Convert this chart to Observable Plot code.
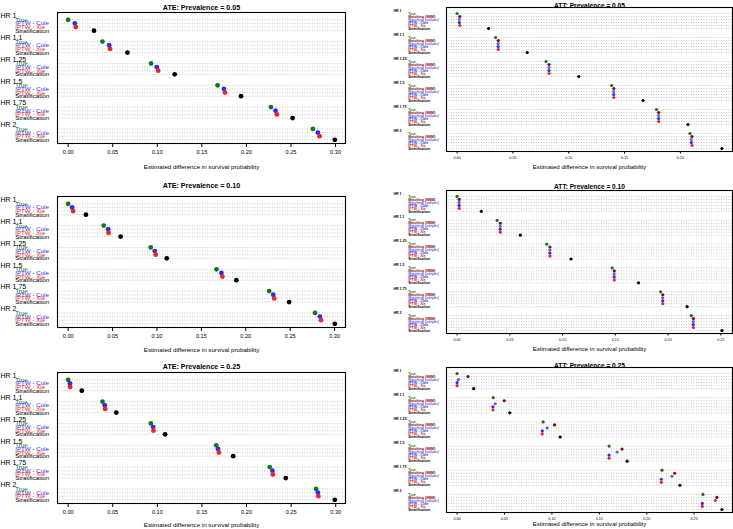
<!DOCTYPE html>
<html><head><meta charset="utf-8">
<script src="https://cdn.jsdelivr.net/npm/d3@7"></script>
<script src="https://cdn.jsdelivr.net/npm/@observablehq/plot@0.6"></script>
<style>
body{margin:0;background:#fff;}
#root{position:relative;width:733px;height:529px;overflow:hidden;background:#fff;}
#root svg{position:absolute;}
</style></head>
<body><div id="root"></div>
<script>
// ---------- data ----------
const hrLabels = ["HR 1","HR 1.1","HR 1.25","HR 1.5","HR 1.75","HR 2"];
const ateMethods = ["True","IPTW - Cole","IPTW - Xie","Stratification"];
const ateColors = ["#177317","#2b2bf5","#f52222","#000000"];
const attMethods = ["True","Matching (NNM)","Matching (caliper)","IPTW - Cole","IPTW - Xie","Stratification"];
const attColors = ["#177317","#8b0a0a","#6a5ad8","#2b2bf5","#f52222","#000000"];
const ateTicks = [0.00,0.05,0.10,0.15,0.20,0.25,0.30];
const att05Ticks = [0.00,0.05,0.10,0.15,0.20];
const att10Ticks = [0.00,0.05,0.10,0.15,0.20,0.25];
const att25Ticks = [0.00,0.05,0.10,0.15,0.20,0.25];
const xLabel = "Estimated difference in survival probability";

// rows: HR groups; columns: methods
const ate05 = [
  [0.000,0.0075,0.0086,0.0290],
  [0.0385,0.0460,0.0470,0.0665],
  [0.0930,0.0994,0.1010,0.1195],
  [0.1677,0.1748,0.1760,0.1939],
  [0.2275,0.2327,0.2342,0.2518],
  [0.2746,0.2802,0.2821,0.2992]
];
const ate10 = [
  [0.000,0.0045,0.0056,0.0200],
  [0.0400,0.0450,0.0455,0.0590],
  [0.0930,0.0975,0.0986,0.1110],
  [0.1670,0.1726,0.1737,0.1894],
  [0.2264,0.2309,0.2320,0.2488],
  [0.2780,0.2835,0.2847,0.3003]
];
const ate25 = [
  [0.000,0.0020,0.0022,0.0153],
  [0.0385,0.0410,0.0415,0.0540],
  [0.0927,0.0953,0.0956,0.1087],
  [0.1660,0.1680,0.1690,0.1850],
  [0.2260,0.2290,0.2295,0.2440],
  [0.2780,0.2800,0.2805,0.2990]
];
const att05 = [
  [0.0000,0.0024,0.0020,0.0020,0.0024,0.0282],
  [0.0345,0.0369,0.0368,0.0368,0.0369,0.0628],
  [0.0797,0.0824,0.0823,0.0823,0.0824,0.1090],
  [0.1384,0.1404,0.1403,0.1403,0.1404,0.1666],
  [0.1786,0.1806,0.1805,0.1805,0.1806,0.2068],
  [0.2086,0.2104,0.2098,0.2098,0.2104,0.2372]
];
const att10 = [
  [0.0000,0.0020,0.0019,0.0019,0.0020,0.0230],
  [0.0380,0.0410,0.0409,0.0409,0.0410,0.0600],
  [0.0850,0.0880,0.0879,0.0879,0.0880,0.1080],
  [0.1470,0.1490,0.1489,0.1489,0.1490,0.1720],
  [0.1930,0.1950,0.1949,0.1949,0.1950,0.2180],
  [0.2220,0.2240,0.2239,0.2239,0.2240,0.2510]
];
const att25 = [
  [0.0000,0.0115,0.0014,0.0000,0.0000,0.0175],
  [0.0381,0.0497,0.0402,0.0378,0.0378,0.0556],
  [0.0908,0.1028,0.0950,0.0898,0.0898,0.1087],
  [0.1603,0.1740,0.1687,0.1603,0.1603,0.1793],
  [0.2161,0.2295,0.2266,0.2154,0.2154,0.2350],
  [0.2593,0.2740,0.2723,0.2586,0.2586,0.2793]
];

// ---------- drawing ----------
const FONT = "'Liberation Sans', Arial, Helvetica, sans-serif";
const root = document.getElementById("root");

function panel(cfg, G) {
  const m = cfg.methods.length, step = m + 2, nLines = hrLabels.length * step - 1;
  const pts = [];
  cfg.values.forEach((row, g) => row.forEach((v, i) =>
    pts.push({x: v, y: g * step + 1 + i, method: cfg.methods[i]})));
  const groups = hrLabels.map((h, g) => ({label: h, y: g * step}));
  const xs = pts.map(d => d.x);
  const lo = d3.min(xs), hi = d3.max(xs), pad = (hi - lo) * 0.04;
  const svg = Plot.plot({
    width: G.w, height: G.h,
    marginTop: G.mt, marginBottom: G.mb, marginLeft: G.ml, marginRight: G.mr,
    style: {background: "transparent", overflow: "visible", fontFamily: FONT},
    x: {domain: [lo - pad, hi + pad]},
    y: {domain: [nLines, -1], axis: null},
    color: {domain: cfg.methods, range: cfg.colors},
    marks: [
      Plot.ruleY(pts, {y: "y", stroke: "#a8a8a8", strokeDasharray: "0.9,1.6", strokeWidth: 0.7}),
      Plot.frame({stroke: "black", strokeWidth: G.frameW}),
      Plot.axisX({ticks: cfg.ticks, tickFormat: d3.format(".2f"), tickSize: G.tick, tickPadding: G.tickPad,
                  fontSize: G.tickFont, label: null, anchor: "bottom", stroke: "black"}),
      Plot.dot(pts, {x: "x", y: "y", fill: "method", r: G.r, stroke: null}),
      Plot.text(pts, {y: "y", text: "method", fill: "method", frameAnchor: "left", textAnchor: "start",
                      dx: G.labX - G.ml, fontSize: G.labFont, fontWeight: G.labWeight}),
      Plot.text(groups, {y: "y", text: "label", frameAnchor: "left", textAnchor: "start",
                         dx: G.grpX - G.ml, dy: G.grpDy, fontSize: G.grpFont, fontWeight: G.grpWeight}),
      Plot.text([cfg.title], {text: d => d, frameAnchor: "top", dy: G.titleDy, fontWeight: "bold", fontSize: G.titleFont}),
      Plot.text([xLabel], {text: d => d, frameAnchor: "bottom", dy: G.xlabDy, fontSize: G.xlabFont})
    ]
  });
  svg.style.left = G.left + "px";
  svg.style.top = G.top + "px";
  root.appendChild(svg);
}

const leftBase = {left: 0, w: 360, ml: 57, mr: 15, r: 2.4, frameW: 1.1, tick: 4, tickPad: 3, tickFont: 5.6,
  labX: 14.7, labFont: 6.2, labWeight: "normal", grpX: 0, grpDy: -0.3, grpFont: 7, grpWeight: "normal",
  titleFont: 7.1, xlabFont: 6.2};
const rightBase = {left: 360, w: 373, ml: 86, mr: 1, r: 1.6, frameW: 1.1, tick: 2.5, tickPad: 2.5, tickFont: 3.7,
  labX: 47.7, labFont: 3.6, labWeight: "bold", grpX: 33, grpDy: 0, grpFont: 3.5, grpWeight: "bold",
  titleFont: 6.6, xlabFont: 6.1};

panel({title: "ATE: Prevalence = 0.05", methods: ateMethods, colors: ateColors, values: ate05, ticks: ateTicks},
  {...leftBase, top: 0, h: 176, mt: 12, mb: 33, titleDy: -8, xlabDy: 25});
panel({title: "ATE: Prevalence = 0.10", methods: ateMethods, colors: ateColors, values: ate10, ticks: ateTicks},
  {...leftBase, top: 176, h: 176, mt: 20, mb: 25, titleDy: -14, xlabDy: 24});
panel({title: "ATE: Prevalence = 0.25", methods: ateMethods, colors: ateColors, values: ate25, ticks: ateTicks},
  {...leftBase, top: 352, h: 177, mt: 20, mb: 26, titleDy: -9, xlabDy: 23});

panel({title: "ATT: Prevalence = 0.05", methods: attMethods, colors: attColors, values: att05, ticks: att05Ticks},
  {...rightBase, top: 0, h: 176, mt: 7, mb: 25, titleDy: -4, xlabDy: 17});
panel({title: "ATT: Prevalence = 0.10", methods: attMethods, colors: attColors, values: att10, ticks: att10Ticks},
  {...rightBase, top: 176, h: 176, mt: 14, mb: 19, titleDy: -6, xlabDy: 17});
panel({title: "ATT: Prevalence = 0.25", methods: attMethods, colors: attColors, values: att25, ticks: att25Ticks},
  {...rightBase, top: 352, h: 177, mt: 15, mb: 17, titleDy: -4, xlabDy: 13});
</script>
</body></html>
